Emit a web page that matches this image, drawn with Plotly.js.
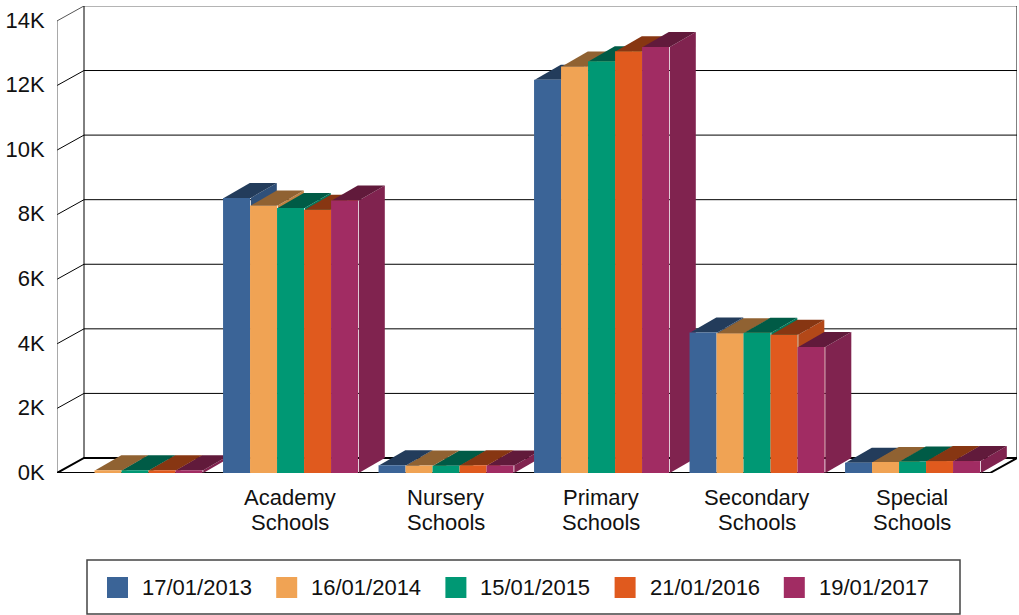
<!DOCTYPE html>
<html><head><meta charset="utf-8">
<script src="https://cdn.plot.ly/plotly-3.0.1.min.js"></script>
<style>html,body{margin:0;padding:0;background:#fff}#c{width:1019px;height:615px}</style>
</head><body><div id="c"></div>
<script>
var categories = [" ", "Academy Schools", "Nursery Schools", "Primary Schools", "Secondary Schools", "Special Schools"];
var dates = ["17/01/2013", "16/01/2014", "15/01/2015", "21/01/2016", "19/01/2017"];
var s2013 = [null, 8520, 240, 12180, 4350, 320];
var s2014 = [85, 8285, 230, 12590, 4330, 340];
var s2015 = [85, 8210, 225, 12755, 4340, 355];
var s2016 = [85, 8155, 240, 13065, 4280, 370];
var s2017 = [85, 8440, 235, 13190, 3900, 370];
var tickValues = [0, 2000, 4000, 6000, 8000, 10000, 12000, 14000];
var tickLabels = ["0K", "2K", "4K", "6K", "8K", "10K", "12K", "14K"];
var frontColors = ["#3B6497", "#F0A354", "#009874", "#E05A1E", "#A12C63"];
var sideColors = ["#2F5079", "#C08243", "#007A5D", "#B34818", "#80234F"];
var topColors = ["#233C5B", "#906232", "#005B46", "#873612", "#611A3B"];

var series = [s2013, s2014, s2015, s2016, s2017];
var W = 1019, H = 615, L = 57, R = 1017, T = 6, B = 473;
var catPx = 155.5, unitPx = 0.03229, depthX = 27 / catPx, depthY = 15 / unitPx;
var barDepthX = 26 / catPx;
var xRange = [-0.5, -0.5 + (R - L) / catPx], yRange = [0, (B - T) / unitPx];
var barW = 27 / catPx, barShift = 0.3 / catPx, start = -0.5 + 11 / catPx + barShift;
var xEnd = categories.length - 0.5;
var px = function (p) { return (p - L) / (R - L); };
var py = function (p) { return (B - p) / (B - T); };

var traces = [];
function wall(xs, ys, color, width) {
  traces.push({type: "scatter", mode: "lines", x: xs, y: ys, hoverinfo: "skip", showlegend: false,
    line: {color: color, width: width}, xaxis: "x", yaxis: "y"});
}
// walls and floor
tickValues.forEach(function (v, i) {
  var top = i === tickValues.length - 1;
  if (i > 0) wall([-0.5, -0.5 + depthX, xEnd + depthX], [v, v + depthY, v + depthY], top ? "#555" : "#000", 1);
});
wall([-0.5, -0.5], [0, 14000], "#555", 1);
wall([-0.5 + depthX, -0.5 + depthX], [depthY, 14000 + depthY], "#000", 1);
wall([xEnd + depthX, xEnd + depthX], [depthY, 14000 + depthY], "#000", 1);
wall([-0.5, -0.5 + depthX, xEnd + depthX, xEnd, -0.5], [0, depthY, depthY, 0, 0], "#000", 2);

// side and top faces, painted back to front
categories.forEach(function (c, i) {
  series.forEach(function (vals, s) {
    var v = vals[i];
    if (v === null) return;
    var xl = i + start + s * barW, xr = xl + barW;
    traces.push({type: "scatter", mode: "lines", fill: "toself", fillcolor: sideColors[s], hoverinfo: "skip", showlegend: false,
      line: {width: 0, color: sideColors[s]},
      x: [xr, xr + barDepthX, xr + barDepthX, xr, xr], y: [0, depthY, v + depthY, v, 0], xaxis: "x", yaxis: "y"});
    traces.push({type: "scatter", mode: "lines", fill: "toself", fillcolor: topColors[s], hoverinfo: "skip", showlegend: false,
      line: {width: 0, color: topColors[s]},
      x: [xl, xl + barDepthX, xr + barDepthX, xr, xl], y: [v, v + depthY, v + depthY, v, v], xaxis: "x", yaxis: "y"});
  });
});

// front faces: real bars on an overlaid identical subplot
var centers = categories.map(function (c, i) { return i + barShift; });
series.forEach(function (vals, s) {
  traces.push({type: "bar", name: dates[s], x: centers, y: vals, xaxis: "x2", yaxis: "y2",
    marker: {color: frontColors[s], line: {width: 0}}, showlegend: false});
});

var annotations = [], shapes = [];
var font = {family: "Liberation Sans, Arial, sans-serif", size: 22, color: "#111"};
categories.forEach(function (c, i) {
  var parts = c.trim().split(" ");
  if (!parts[0]) return;
  parts.forEach(function (t, j) {
    annotations.push({text: t, xref: "x", x: i, yref: "paper", y: py(497 + j * 25), xanchor: "center", yanchor: "middle",
      showarrow: false, font: font, borderpad: 0});
  });
});
shapes.push({type: "rect", xref: "paper", yref: "paper", x0: px(87), x1: px(960), y0: py(560), y1: py(614),
  line: {color: "#444", width: 1.5}, fillcolor: "#fff"});
dates.forEach(function (d, s) {
  var x = 107 + s * 169.2;
  shapes.push({type: "rect", xref: "paper", yref: "paper", x0: px(x), x1: px(x + 21), y0: py(577), y1: py(598),
    line: {width: 0}, fillcolor: frontColors[s]});
  annotations.push({text: d, xref: "paper", x: px(x + 34), yref: "paper", y: py(587), xanchor: "left", yanchor: "middle",
    showarrow: false, font: font, borderpad: 0});
});

var layout = {
  width: W, height: H, showlegend: false, paper_bgcolor: "#fff", plot_bgcolor: "#fff",
  margin: {l: L, r: W - R, t: T, b: H - B, pad: 0},
  barmode: "group", bargap: 20.5 / catPx, bargroupgap: 0,
  font: font,
  xaxis: {type: "linear", range: xRange, tickvals: centers, ticktext: categories.map(function () { return ""; }),
    showgrid: false, zeroline: false, showline: false, ticks: "", fixedrange: true},
  yaxis: {type: "linear", range: yRange, tickvals: tickValues, ticktext: tickLabels, showgrid: false, zeroline: false,
    showline: false, ticks: "outside", ticklen: 7, tickcolor: "rgba(0,0,0,0)", tickfont: font, ticklabelshift: -1, fixedrange: true},
  xaxis2: {type: "linear", range: xRange, overlaying: "x", visible: false, fixedrange: true},
  yaxis2: {type: "linear", range: yRange, overlaying: "y", visible: false, fixedrange: true},
  shapes: shapes, annotations: annotations
};
Plotly.newPlot("c", traces, layout, {displayModeBar: false, responsive: false});
</script></body></html>
